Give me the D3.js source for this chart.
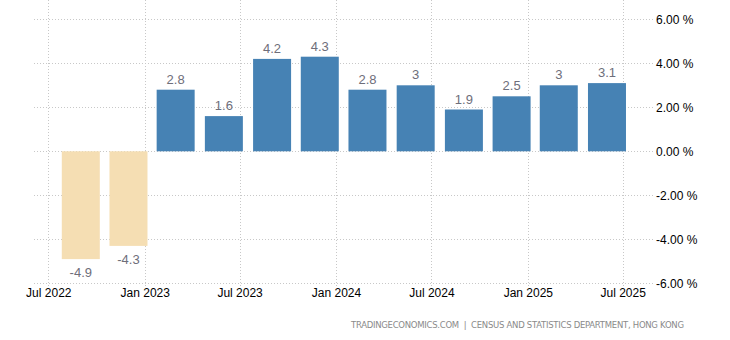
<!DOCTYPE html>
<html><head><meta charset="utf-8">
<script src="https://cdn.jsdelivr.net/npm/d3@7"></script>
<style>body{margin:0;background:#fff}svg{display:block}</style>
</head><body>
<svg id="c" width="730" height="340"></svg>
<script>
const dates = ["2022-09-01","2022-12-01","2023-03-01","2023-06-01","2023-09-01","2023-12-01","2024-03-01","2024-06-01","2024-09-01","2024-12-01","2025-03-01","2025-06-01"];
const values = [-4.9,-4.3,2.8,1.6,4.2,4.3,2.8,3,1.9,2.5,3,3.1];
const labels = ["-4.9","-4.3","2.8","1.6","4.2","4.3","2.8","3","1.9","2.5","3","3.1"];
const yTicks = [-6,-4,-2,0,2,4,6];
const yTickLabels = ["-6.00 %","-4.00 %","-2.00 %","0.00 %","2.00 %","4.00 %","6.00 %"];
const xTicks = ["2022-07-01","2023-01-01","2023-07-01","2024-01-01","2024-07-01","2025-01-01","2025-07-01"];
const source = "TRADINGECONOMICS.COM  |  CENSUS AND STATISTICS DEPARTMENT, HONG KONG";

const parse = d3.utcParse("%Y-%m-%d");
const svg = d3.select("#c");
const font = "'Liberation Sans', Arial, sans-serif";

const x = d3.scaleUtc().domain([parse("2022-07-01"), parse("2025-07-01")]).range([48.3, 622.7]);
const y = d3.scaleLinear().domain([-6, 6]).range([283.3, 19.3]);

// horizontal grid
svg.append("g").selectAll("line").data(yTicks).join("line")
  .attr("x1", 34).attr("x2", 653)
  .attr("y1", d => Math.round(y(d)) + 0.5).attr("y2", d => Math.round(y(d)) + 0.5)
  .attr("stroke", "#c8c8c8").attr("stroke-dasharray", "1,2");
// vertical grid
svg.append("g").selectAll("line").data(xTicks).join("line")
  .attr("x1", d => Math.round(x(parse(d))) + 0.5).attr("x2", d => Math.round(x(parse(d))) + 0.5)
  .attr("y1", 0).attr("y2", 288)
  .attr("stroke", "#c8c8c8").attr("stroke-dasharray", "1,2");

// y-axis labels (right)
const yAxis = d3.axisRight(y).tickValues(yTicks).tickSize(0).tickPadding(0)
  .tickFormat((d, i) => yTickLabels[i]);
const gy = svg.append("g").attr("transform", "translate(656,0)").call(yAxis);
gy.select(".domain").remove();
gy.selectAll("text").attr("font-family", font).attr("font-size", 12).attr("fill", "#000");

// x-axis labels
const xAxis = d3.axisBottom(x).tickValues(xTicks.map(parse)).tickSize(0).tickPadding(0)
  .tickFormat(d3.utcFormat("%b %Y"));
const gx = svg.append("g").attr("transform", "translate(0,288)").call(xAxis);
gx.select(".domain").remove();
gx.selectAll("text").attr("font-family", font).attr("font-size", 12).attr("fill", "#000");

// bars
const bw = 38;
svg.append("g").selectAll("rect").data(values).join("rect")
  .attr("x", (d, i) => x(parse(dates[i])) - bw / 2)
  .attr("width", bw)
  .attr("y", d => y(Math.max(0, d)))
  .attr("height", d => Math.abs(y(d) - y(0)))
  .attr("fill", d => d < 0 ? "#f5deb3" : "#4682b4");

// value labels
svg.append("g").selectAll("text").data(values).join("text")
  .attr("x", (d, i) => x(parse(dates[i])))
  .attr("y", d => d < 0 ? y(d) + 18 : y(d) - 6)
  .attr("text-anchor", "middle")
  .attr("font-family", font).attr("font-size", 13).attr("fill", "#6e6e7a")
  .text((d, i) => labels[i]);

// source
svg.append("text").attr("x", 351).attr("y", 328)
  .attr("font-family", "'DejaVu Sans', sans-serif").attr("font-size", 8.5).attr("fill", "#8a8a8a")
  .attr("textLength", 333).attr("lengthAdjust", "spacing")
  .attr("xml:space", "preserve").style("white-space", "pre")
  .text(source);
</script>
</body></html>
